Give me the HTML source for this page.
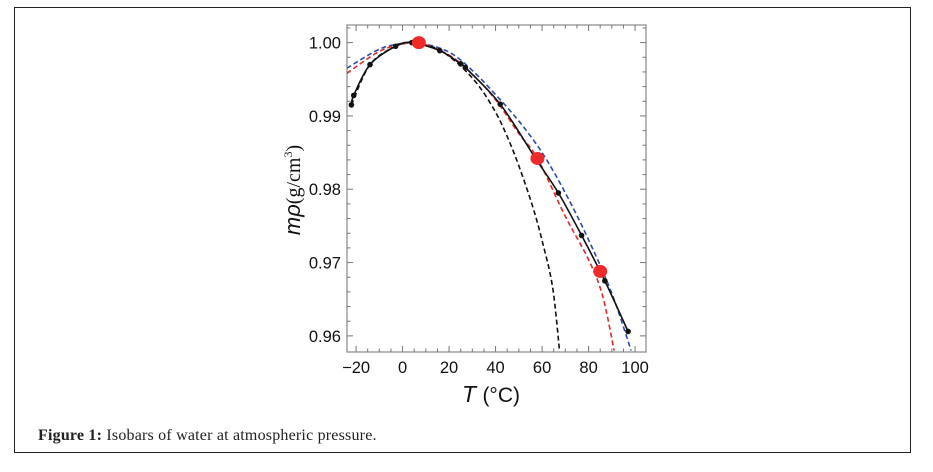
<!DOCTYPE html>
<html><head><meta charset="utf-8">
<style>
html,body{margin:0;padding:0;background:#fff;}
body{width:933px;height:472px;position:relative;overflow:hidden;}
#box{position:absolute;left:14px;top:7px;width:897px;height:446px;border:1.5px solid #222;box-sizing:border-box;}
#cap{position:absolute;left:38px;top:427px;font-family:"Liberation Serif",serif;font-size:16px;letter-spacing:0.2px;color:#222;}
svg{position:absolute;left:0;top:0;}
</style></head><body>
<div id="box"></div>
<div id="cap"><b>Figure 1:</b> Isobars of water at atmospheric pressure.</div>
<svg id="chart" width="933" height="472"></svg>
<script>
const xTicks=[-20,0,20,40,60,80,100];
const yTicks=[0.96,0.97,0.98,0.99,1.00];
const yTickLabels=["0.96","0.97","0.98","0.99","1.00"];
const dataT=[-22,-21,-14,-3,4,16,25,27,42,57,67,77,87,97];
const dataRho=[0.9915,0.9928,0.997,0.9995,1.0,0.9989,0.9971,0.9966,0.9916,0.9843,0.9795,0.9737,0.9675,0.9606];
const refT=[7,58,85];
const refRho=[1.0,0.9842,0.9688];
const blackDashT=[-22,-14,-3,4,10,16,25,33,40,45,50,56,60,64.5,67.5];
const blackDashRho=[0.9915,0.997,0.9995,1.0,0.9996,0.999,0.9968,0.994,0.9905,0.9872,0.9832,0.9776,0.973,0.9667,0.958];
const redDashT=[-24,-10,0,7,20,30,40,50,58,70,80,86,91];
const redDashRho=[0.9958,0.9988,0.9998,1.0,0.9983,0.9957,0.9922,0.9876,0.9842,0.9763,0.9704,0.9655,0.958];
const blueDashT=[-24,-10,0,7,20,30,40,50,60,70,80,90,98.3];
const blueDashRho=[0.9965,0.9991,0.9999,1.0,0.9987,0.9962,0.9929,0.9893,0.985,0.9795,0.9731,0.9658,0.958];

const L=347,R=646,T=25,B=352;
const xMin=-23.9,xMax=104.7,yMin=0.9578,yMax=1.0024;
const sx=v=>L+(v-xMin)/(xMax-xMin)*(R-L);
const sy=v=>B-(v-yMin)/(yMax-yMin)*(B-T);
const svg=document.getElementById('chart');
const NS='http://www.w3.org/2000/svg';
function mk(tag,attrs){const e=document.createElementNS(NS,tag);for(const k in attrs)e.setAttribute(k,attrs[k]);svg.appendChild(e);return e;}
function smooth(xs,ys){
  const p=xs.map((x,i)=>[sx(x),sy(ys[i])]);
  let d='M'+p[0][0]+','+p[0][1];
  for(let i=0;i<p.length-1;i++){
    const p0=p[Math.max(0,i-1)],p1=p[i],p2=p[i+1],p3=p[Math.min(p.length-1,i+2)];
    const c1=[p1[0]+(p2[0]-p0[0])/6,p1[1]+(p2[1]-p0[1])/6];
    const c2=[p2[0]-(p3[0]-p1[0])/6,p2[1]-(p3[1]-p1[1])/6];
    d+=' C'+c1+' '+c2+' '+p2;
  }
  return d;
}
const defs=mk('defs',{});
const cp=document.createElementNS(NS,'clipPath');cp.setAttribute('id','clip');
const cr=document.createElementNS(NS,'rect');cr.setAttribute('x',L);cr.setAttribute('y',T);cr.setAttribute('width',R-L);cr.setAttribute('height',B-T);
cp.appendChild(cr);defs.appendChild(cp);

const fr=mk('rect',{x:L,y:T,width:R-L,height:B-T,fill:'none',stroke:'#888','stroke-width':1.2});


for(let v=-20;v<=100;v+=5){
  const major=v%20===0;const len=major?6:3.5;
  mk('line',{x1:sx(v),x2:sx(v),y1:B,y2:B-len,stroke:'#777','stroke-width':1});
  mk('line',{x1:sx(v),x2:sx(v),y1:T,y2:T+len,stroke:'#777','stroke-width':1});
}
xTicks.forEach(v=>{
  const t=mk('text',{x:sx(v),y:B+21,'text-anchor':'middle','font-family':'Liberation Sans, sans-serif','font-size':16.5,fill:'#111'});
  t.textContent=v<0?'\u2212'+(-v):String(v);
  
  
});
for(let v=0.96;v<=1.0025;v+=0.002){
  const major=Math.abs(Math.round(v*100)-v*100)<1e-6;const len=major?6:3.5;
  mk('line',{x1:L,x2:L+len,y1:sy(v),y2:sy(v),stroke:'#777','stroke-width':1});
  mk('line',{x1:R,x2:R-len,y1:sy(v),y2:sy(v),stroke:'#777','stroke-width':1});
}
yTicks.forEach((v,i)=>{
  const t=mk('text',{x:L-6,y:sy(v)+6,'text-anchor':'end','font-family':'Liberation Sans, sans-serif','font-size':16.5,fill:'#111'});
  t.textContent=yTickLabels[i];
  
  
});
const yt=mk('text',{transform:'translate(300,190) rotate(-90)','text-anchor':'middle','font-family':'Liberation Serif, serif','font-size':20,fill:'#111'});
yt.innerHTML='<tspan font-family="Liberation Sans, sans-serif" font-style="italic" font-size="22">m\u03c1</tspan>(g/cm<tspan font-size="12" dy="-8">3</tspan><tspan dy="8">)</tspan>';


const xt=mk('text',{x:491,y:402,'text-anchor':'middle','font-family':'Liberation Sans, sans-serif','font-size':23,fill:'#111'});
xt.innerHTML='<tspan font-style="italic">T</tspan> <tspan font-size="21">(\u00b0C)</tspan>';



const g=mk('g',{'clip-path':'url(#clip)'});
function path(d,color,dash,name){
  const e=document.createElementNS(NS,'path');
  e.setAttribute('d',d);e.setAttribute('fill','none');e.setAttribute('stroke',color);e.setAttribute('stroke-width',1.6);
  if(dash)e.setAttribute('stroke-dasharray',dash);
  
  
  g.appendChild(e);
}
path(smooth(blueDashT,blueDashRho),'#2a4aa8','5,3','blue-dashed-curve');
path(smooth(redDashT,redDashRho),'#e02a2a','5,3','red-dashed-curve');
path(smooth(blackDashT,blackDashRho),'#111','5,3','black-dashed-curve');
path(smooth(dataT,dataRho),'#111',null,'black-solid-curve');
dataT.forEach((x,i)=>{
  const c=document.createElementNS(NS,'circle');
  c.setAttribute('cx',sx(x));c.setAttribute('cy',sy(dataRho[i]));c.setAttribute('r',2.8);c.setAttribute('fill','#111');
  
  
  g.appendChild(c);
});
refT.forEach((x,i)=>{
  const c=document.createElementNS(NS,'ellipse');
  c.setAttribute('cx',sx(x));c.setAttribute('cy',sy(refRho[i]));c.setAttribute('rx',7);c.setAttribute('ry',6.5);c.setAttribute('fill','#ee2a2a');
  
  
  g.appendChild(c);
});
</script>
</body></html>
